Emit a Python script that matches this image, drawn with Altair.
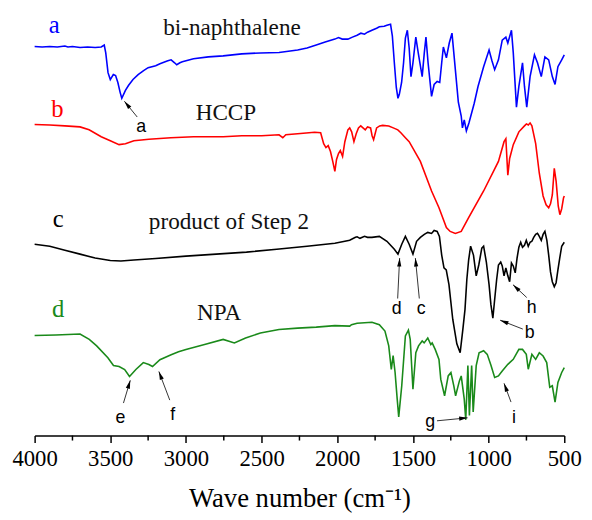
import math
import altair as alt
import pandas as pd

# ---- spectra (wave number, transmittance in arbitrary offset units) ----
WN_A = [4000, 3950, 3900, 3850, 3800, 3780, 3750, 3700, 3650, 3600, 3560, 3540, 3530, 3515, 3500, 3480, 3465, 3450, 3435, 3424,
        3400, 3380, 3350, 3316, 3280, 3250, 3200, 3172, 3120, 3098, 3075, 3061, 3040, 3024, 2950, 2852, 2754, 2631, 2508, 2385,
        2262, 2200, 2139, 2080, 2016, 1992, 1967, 1930, 1900, 1869, 1844, 1820, 1800, 1771, 1740, 1722, 1690, 1672, 1648, 1636,
        1623, 1610, 1599, 1590, 1575, 1562, 1550, 1537, 1525, 1513, 1500, 1481, 1465, 1439, 1425, 1414, 1400, 1377, 1360, 1340,
        1323, 1310, 1299, 1279, 1260, 1242, 1230, 1218, 1200, 1181, 1173, 1161, 1147, 1130, 1095, 1070, 1033, 997, 978, 960,
        935, 910, 886, 873, 849, 837, 816, 800, 776, 763, 748, 726, 697, 677, 652, 628, 603, 579, 561, 542, 517, 500]
T_A = [39.45, 39.4, 39.45, 39.4, 39.5, 39.4, 39.45, 39.35, 39.4, 39.35, 39.4, 39.6, 38.8, 36.8, 36.1, 36.6, 36.5, 35.8, 34.8, 34.2,
       35.0, 35.5, 36.1, 36.6, 37.0, 37.3, 37.5, 37.7, 38.0, 38.1, 37.8, 37.6, 37.8, 37.9, 38.2, 38.4, 38.5, 38.7, 38.8, 38.85,
       39.1, 39.3, 39.6, 39.9, 40.2, 40.35, 40.2, 40.2, 40.4, 40.6, 40.8, 40.7, 40.9, 41.1, 41.3, 41.45, 41.5, 41.6, 41.7, 40.5,
       37.8, 35.3, 34.2, 34.6, 35.8, 37.8, 40.3, 41.1, 39.3, 36.4, 37.8, 40.4, 38.8, 36.4, 38.8, 40.4, 37.8, 34.4, 35.6, 35.9,
       35.8, 37.8, 39.4, 38.3, 39.8, 40.8, 38.8, 36.8, 33.8, 32.4, 31.2, 32.0, 30.9, 31.7, 33.7, 35.4, 37.4, 39.1, 38.0, 37.1,
       38.1, 40.1, 40.4, 39.8, 41.1, 38.8, 33.3, 35.4, 37.8, 35.4, 33.3, 36.4, 38.6, 37.8, 36.4, 38.4, 38.1, 36.4, 35.6, 37.4, 38.1, 38.6]

WN_B = [4000, 3900, 3800, 3700, 3640, 3560, 3500, 3442, 3400, 3344, 3245, 3100, 2950, 2754, 2631, 2500, 2385, 2360, 2340, 2262,
        2150, 2110, 2090, 2075, 2060, 2045, 2030, 2016, 2005, 1992, 1980, 1965, 1950, 1930, 1918, 1905, 1890, 1875, 1860, 1845,
        1830, 1815, 1800, 1780, 1770, 1760, 1750, 1740, 1720, 1700, 1660, 1630, 1600, 1580, 1550, 1525, 1451, 1377, 1328, 1279,
        1254, 1220, 1181, 1132, 1033, 935, 898, 886, 873, 861, 837, 800, 763, 750, 738, 726, 714, 689, 665, 640,
        620, 603, 591, 579, 566, 554, 540, 529, 517, 505, 500]
T_B = [31.55, 31.5, 31.4, 31.3, 31.0, 30.3, 29.9, 29.5, 29.6, 29.9, 30.05, 30.2, 30.3, 30.3, 30.4, 30.4, 30.5, 30.2, 30.5, 30.6,
       30.75, 30.7, 29.6, 29.2, 29.4, 28.8, 27.8, 26.8, 28.0, 28.6, 28.9, 28.3, 29.8, 31.0, 31.2, 30.8, 29.8, 30.6, 31.2, 31.4,
       31.2, 31.0, 31.3, 31.2, 30.4, 30.0, 30.6, 31.2, 31.4, 31.45, 31.4, 31.2, 31.0, 30.7, 30.2, 29.8, 27.8, 24.8, 23.1, 21.1,
       20.7, 20.5, 20.7, 22.1, 24.8, 27.8, 29.8, 30.1, 26.4, 28.1, 29.5, 30.8, 31.4, 31.6, 31.5, 31.7, 31.4, 29.6, 26.6, 24.3,
       23.4, 23.1, 23.5, 24.4, 27.1, 25.8, 23.3, 22.4, 23.0, 24.1, 24.3]

WN_C = [4000, 3900, 3800, 3700, 3600, 3500, 3430, 3344, 3200, 3000, 2800, 2600, 2400, 2200, 2016, 1950, 1918, 1880, 1869, 1850,
        1820, 1800, 1771, 1722, 1672, 1623, 1599, 1574, 1550, 1525, 1500, 1476, 1451, 1425, 1402, 1377, 1360, 1340, 1325, 1310,
        1295, 1280, 1262, 1237, 1210, 1188, 1170, 1156, 1144, 1132, 1119, 1100, 1082, 1065, 1045, 1033, 1015, 997, 985, 972,
        960, 947, 935, 920, 910, 898, 886, 873, 861, 849, 837, 824, 812, 800, 788, 776, 763, 751, 738, 726,
        714, 702, 689, 677, 665, 652, 640, 628, 615, 603, 591, 579, 566, 554, 542, 530, 517, 500]
T_C = [19.4, 19.2, 18.8, 18.4, 18.0, 17.75, 17.7, 17.8, 17.95, 18.2, 18.4, 18.6, 18.9, 19.2, 19.5, 19.7, 19.8, 20.1, 20.15, 20.0,
       20.2, 20.1, 20.1, 20.2, 19.7, 18.9, 18.4, 19.4, 20.2, 19.4, 18.4, 19.7, 20.1, 20.4, 20.6, 20.5, 20.8, 20.7, 20.2, 18.3,
       17.0, 16.8, 15.3, 11.8, 9.3, 8.4, 10.8, 12.8, 15.8, 17.8, 19.2, 18.3, 16.2, 17.3, 19.0, 19.2, 17.6, 15.3, 13.3, 11.9,
       13.8, 15.8, 17.3, 17.6, 17.2, 16.2, 17.0, 16.2, 15.6, 17.5, 17.2, 16.5, 18.0, 19.1, 19.6, 19.1, 19.3, 19.8, 19.2, 19.6,
       19.7, 20.1, 20.4, 20.5, 20.2, 19.8, 20.4, 20.7, 19.8, 18.3, 16.6, 15.6, 15.1, 15.5, 16.8, 18.0, 19.2, 19.6]

WN_D = [4000, 3860, 3700, 3639, 3590, 3516, 3479, 3442, 3405, 3373, 3331, 3282, 3245, 3221, 3172, 3098, 3049, 3000, 2877, 2754,
        2680, 2606, 2508, 2385, 2262, 2139, 2016, 1918, 1906, 1869, 1771, 1722, 1685, 1660, 1643, 1631, 1618, 1604, 1594, 1574,
        1550, 1530, 1518, 1500, 1481, 1463, 1439, 1426, 1402, 1382, 1373, 1353, 1328, 1316, 1291, 1267, 1249, 1230, 1218, 1193,
        1181, 1161, 1151, 1137, 1127, 1112, 1102, 1082, 1063, 1033, 1009, 984, 960, 935, 910, 873, 837, 800, 776, 751,
        738, 714, 689, 665, 640, 616, 596, 579, 561, 542, 517, 500]
T_D = [10.15, 10.2, 10.3, 9.75, 9.1, 7.9, 7.1, 7.0, 6.7, 6.0, 6.7, 7.4, 7.2, 7.0, 7.7, 8.2, 8.5, 8.74, 9.24, 9.75,
       9.4, 9.9, 10.4, 10.75, 10.9, 11.0, 11.15, 11.1, 11.25, 11.4, 11.5, 11.25, 10.6, 9.1, 6.7, 8.1, 6.4, 3.7, 1.9, 5.05,
       10.1, 10.7, 9.75, 4.7, 8.4, 9.1, 9.6, 9.4, 9.9, 9.24, 9.4, 8.74, 7.73, 5.7, 4.04, 6.05, 6.4, 5.05, 4.04, 5.55,
       6.05, 3.7, 1.6, 7.1, 2.03, 7.1, 2.4, 7.1, 8.4, 8.6, 8.24, 7.1, 5.9, 6.05, 6.56, 7.23, 7.73, 8.74, 8.74, 8.24,
       6.73, 8.24, 7.73, 8.4, 8.07, 7.4, 4.9, 5.05, 3.4, 5.4, 6.4, 6.9]

SERIES = ["a", "b", "c", "d"]
SERIES_COLORS = ["#0000ff", "#ff0000", "#000000", "#1a8a1a"]
SERIES_NAMES = ["bi-naphthalene", "HCCP", "product of Step 2", "NPA"]

# curve letter + name label positions (wave number, a.u.)
LETTER_WN = [3870, 3850, 3844, 3844]
LETTER_T = [41.6, 33.1, 21.9, 12.8]
NAME_WN = [2696, 2736, 2716, 2781]
NAME_T = [41.3, 32.7, 21.6, 12.4]

# peak annotations: label, label pos, arrow tail, arrow tip
ANN_LABEL = ["a", "d", "c", "h", "b", "e", "f", "g", "i"]
ANN_WN = [3296, 1608, 1445, 715, 728, 3433, 3088, 1386, 832]
ANN_T = [31.3, 12.8, 12.8, 12.9, 10.4, 1.8, 2.1, 1.4, 1.8]
TAIL_WN = [3322, 1601, 1458, 748, 774, 3413, 3107, 1341, 852]
TAIL_T = [32.3, 13.9, 13.9, 14.0, 10.8, 3.3, 3.6, 1.5, 3.4]
TIP_WN = [3407, 1588, 1484, 839, 924, 3368, 3179, 1139, 898]
TIP_T = [33.9, 18.0, 18.0, 15.3, 11.7, 5.6, 6.5, 1.8, 5.3]

MAJOR_TICKS = [4000, 3500, 3000, 2500, 2000, 1500, 1000, 500]
MINOR_TICKS = [3750, 3250, 2750, 2250, 1750, 1250, 750]

# ---- layout ----
W, H = 537, 430
X_DOMAIN = [500, 4000]
Y_DOMAIN = [0, 43]

rows = []
for s, wn, t in zip(SERIES, [WN_A, WN_B, WN_C, WN_D], [T_A, T_B, T_C, T_D]):
    for i, (w, v) in enumerate(zip(wn, t)):
        rows.append({"series": s, "wn": w, "t": v, "idx": i})
spec = pd.DataFrame(rows)

xs = alt.Scale(domain=X_DOMAIN, reverse=True, nice=False, zero=False)
ys = alt.Scale(domain=Y_DOMAIN, nice=False, zero=False)
cs = alt.Scale(domain=SERIES, range=SERIES_COLORS)

lines = alt.Chart(spec).mark_line(strokeWidth=1.6).encode(
    x=alt.X("wn:Q", scale=xs, axis=alt.Axis(
        values=MAJOR_TICKS, format="d", title="Wave number (cm⁻¹)",
        grid=False, domainColor="black", domainWidth=1.5, tickColor="black", tickWidth=1.5, tickSize=7,
        labelFont="Liberation Serif", labelFontSize=23, labelColor="black", labelPadding=5,
        labelFlush=False, labelOverlap=False,
        titleFont="Liberation Serif", titleFontSize=27, titleFontWeight="normal", titleColor="black", titlePadding=16)),
    y=alt.Y("t:Q", scale=ys, axis=None),
    color=alt.Color("series:N", scale=cs, legend=None),
    order=alt.Order("idx:Q"),
)

minor = alt.Chart(pd.DataFrame({"wn": MINOR_TICKS})).mark_rule(color="black", strokeWidth=1.5).encode(
    x=alt.X("wn:Q", scale=xs), y=alt.value(H), y2=alt.value(H + 5))

lab = pd.DataFrame({"series": SERIES, "wn": LETTER_WN, "t": LETTER_T, "name": SERIES_NAMES,
                    "nwn": NAME_WN, "nt": NAME_T})
letters = alt.Chart(lab).mark_text(font="Liberation Serif", fontSize=25, baseline="middle", align="center").encode(
    x=alt.X("wn:Q", scale=xs), y=alt.Y("t:Q", scale=ys), text="series:N",
    color=alt.Color("series:N", scale=cs, legend=None))
names = alt.Chart(lab).mark_text(font="Liberation Serif", fontSize=23.5, baseline="middle", align="center",
                                 color="#111111").encode(
    x=alt.X("nwn:Q", scale=xs), y=alt.Y("nt:Q", scale=ys), text="name:N")

px_wn = W / (X_DOMAIN[1] - X_DOMAIN[0])
px_t = H / (Y_DOMAIN[1] - Y_DOMAIN[0])
angles = []
for a, b, c, d in zip(TAIL_WN, TAIL_T, TIP_WN, TIP_T):
    dx = -(c - a) * px_wn
    dy = -(d - b) * px_t
    angles.append(math.degrees(math.atan2(dx, -dy)) % 360)
ann = pd.DataFrame({"label": ANN_LABEL, "wn": ANN_WN, "t": ANN_T, "wn1": TAIL_WN, "t1": TAIL_T,
                    "wn2": TIP_WN, "t2": TIP_T, "ang": angles})
arrows = alt.Chart(ann).mark_rule(color="#333333", strokeWidth=1).encode(
    x=alt.X("wn1:Q", scale=xs), x2="wn2:Q", y=alt.Y("t1:Q", scale=ys), y2="t2:Q")
heads = alt.Chart(ann).mark_point(shape="M0,0L0.45,1.8L-0.45,1.8Z", filled=True, size=90, color="black",
                                  opacity=1, strokeWidth=0).encode(
    x=alt.X("wn2:Q", scale=xs), y=alt.Y("t2:Q", scale=ys), angle=alt.Angle("ang:Q", scale=None))
ann_text = alt.Chart(ann).mark_text(font="Liberation Sans", fontSize=18, baseline="middle", align="center",
                                    color="black").encode(
    x=alt.X("wn:Q", scale=xs), y=alt.Y("t:Q", scale=ys), text="label:N")

chart = alt.layer(lines, minor, letters, names, arrows, heads, ann_text).properties(
    width=W, height=H,
    autosize=alt.AutoSizeParams(type="none"),
    padding={"left": 27, "top": 0, "right": 20, "bottom": 80},
).configure_view(strokeWidth=0)

chart.save("out.html", embed_options={"renderer": "svg", "actions": False})
